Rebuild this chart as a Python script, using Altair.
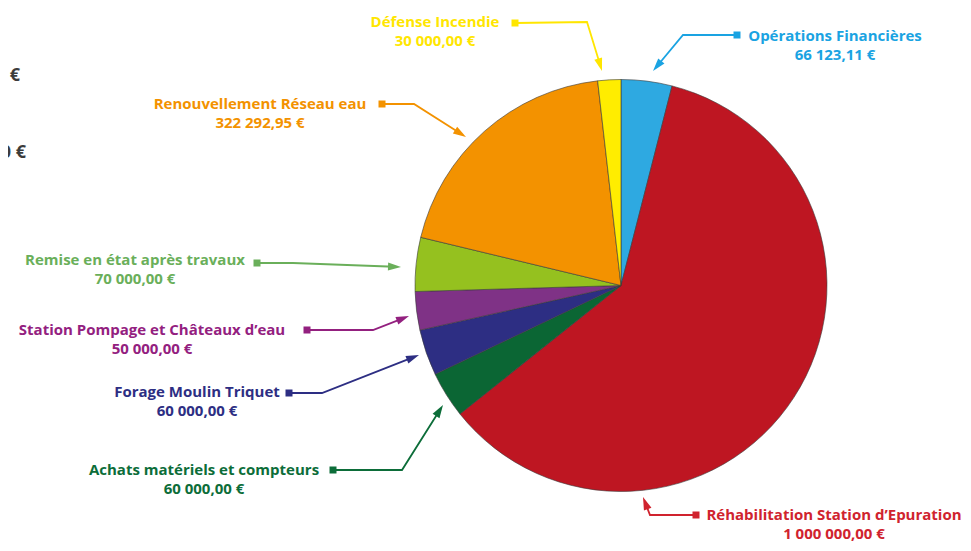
import math
import altair as alt
import pandas as pd

# ---------------- data ----------------
categories = [
    "Opérations Financières",
    "Réhabilitation Station d’Epuration",
    "Achats matériels et compteurs",
    "Forage Moulin Triquet",
    "Station Pompage et Châteaux d’eau",
    "Remise en état après travaux",
    "Renouvellement Réseau eau",
    "Défense Incendie",
]
values = [66123.11, 1000000.00, 60000.00, 60000.00, 50000.00, 70000.00, 322292.95, 30000.00]
value_labels = [
    "66 123,11 €",
    "1 000 000,00 €",
    "60 000,00 €",
    "60 000,00 €",
    "50 000,00 €",
    "70 000,00 €",
    "322 292,95 €",
    "30 000,00 €",
]
slice_colors = ["#2EA9E1", "#BE1622", "#0B6634", "#2D2E83", "#7F3286", "#95C11F", "#F39200", "#FFED00"]
label_colors = ["#1AA3E2", "#D0232E", "#0C6D39", "#2D2E83", "#93207F", "#6AAF5A", "#F39200", "#FFE600"]

# ---------------- layout (screen pixels) ----------------
W, H = 955, 535
OFF = 8
CX, CY, R = 621, 285.5, 206
label_pos = [(835, 36), (834, 515), (204, 470), (197, 392), (152, 330), (135, 260), (260, 104), (435, 22)]
square_pos = [(737, 35), (696, 515), (333, 470), (289, 393), (307, 330), (257, 263), (382, 104), (515, 23)]
elbow_pos = [(683, 35), (650, 515), (402, 470), (322, 393), (373, 330), (293, 263), (414, 104), (587, 22)]
tip_pos = [(653, 71), (643, 497), (443, 405), (419, 355), (409, 316), (401, 267), (466, 137), (602, 71)]
HEAD = 13.0
LINE_GAP = 19

pie_df = pd.DataFrame({
    "idx": list(range(len(categories))),
    "cat": categories,
    "value": values,
    "col": slice_colors,
})

line_rows, head_rows, sq_rows, txt_rows = [], [], [], []
for i, c in enumerate(categories):
    ex, ey = elbow_pos[i]
    tx, ty = tip_pos[i]
    dx, dy = tx - ex, ty - ey
    n = math.hypot(dx, dy)
    ux, uy = dx / n, dy / n
    hx, hy = tx - ux * HEAD / 2, ty - uy * HEAD / 2
    ang = math.degrees(math.atan2(ux, -uy)) % 360
    pts = [square_pos[i], elbow_pos[i], (hx, hy)]
    for k, (px, py) in enumerate(pts):
        line_rows.append({"id": i, "ord": k, "x": px, "y": py, "col": label_colors[i]})
    head_rows.append({"x": hx, "y": hy, "ang": ang, "col": label_colors[i]})
    sq_rows.append({"x": square_pos[i][0], "y": square_pos[i][1], "col": label_colors[i]})
    lx, ly = label_pos[i]
    txt_rows.append({"x": lx, "y": ly, "t": c, "col": label_colors[i]})
    txt_rows.append({"x": lx, "y": ly + LINE_GAP, "t": value_labels[i], "col": label_colors[i]})

frag_df = pd.DataFrame({"x": [20, 26], "y": [76, 153], "t": ["€", "0 €"]})

xs = alt.Scale(domain=[OFF, OFF + W], nice=False, zero=False)
ys = alt.Scale(domain=[OFF, OFF + H], nice=False, zero=False, reverse=True)
X = lambda: alt.X("x:Q", scale=xs, axis=None)
Y = lambda: alt.Y("y:Q", scale=ys, axis=None)
FONT = "Open Sans"

pie = alt.Chart(pie_df).mark_arc(radius=R, stroke="#3a3a3a", strokeWidth=0.6).encode(
    theta=alt.Theta("value:Q", stack=True),
    order=alt.Order("idx:Q"),
    color=alt.Color("col:N", scale=None),
    x=alt.value(CX - OFF),
    y=alt.value(CY - OFF),
)

lines = alt.Chart(pd.DataFrame(line_rows)).mark_line(strokeWidth=1.8).encode(
    x=X(), y=Y(), detail="id:N", order="ord:Q", color=alt.Color("col:N", scale=None)
)

heads = alt.Chart(pd.DataFrame(head_rows)).mark_point(
    shape="M0,-1L0.62,1L-0.62,1Z", filled=True, opacity=1, size=HEAD * HEAD
).encode(
    x=X(), y=Y(), angle=alt.Angle("ang:Q", scale=None), color=alt.Color("col:N", scale=None)
)

squares = alt.Chart(pd.DataFrame(sq_rows)).mark_square(size=49, filled=True, opacity=1).encode(
    x=X(), y=Y(), color=alt.Color("col:N", scale=None)
)

texts = alt.Chart(pd.DataFrame(txt_rows)).mark_text(
    font=FONT, fontWeight="bold", fontSize=15, align="center", baseline="middle"
).encode(x=X(), y=Y(), text="t:N", color=alt.Color("col:N", scale=None))

frags = alt.Chart(frag_df).mark_text(
    font=FONT, fontWeight="bold", fontSize=18, align="right", baseline="middle", color="#3C3C3B"
).encode(x=X(), y=Y(), text="t:N")

chart = alt.layer(pie, lines, heads, squares, texts, frags).properties(
    width=W, height=H, padding=0, autosize=alt.AutoSizeParams(type="none")
).configure_view(stroke=None)

chart.save("out.html", embed_options={"renderer": "svg", "actions": False})
